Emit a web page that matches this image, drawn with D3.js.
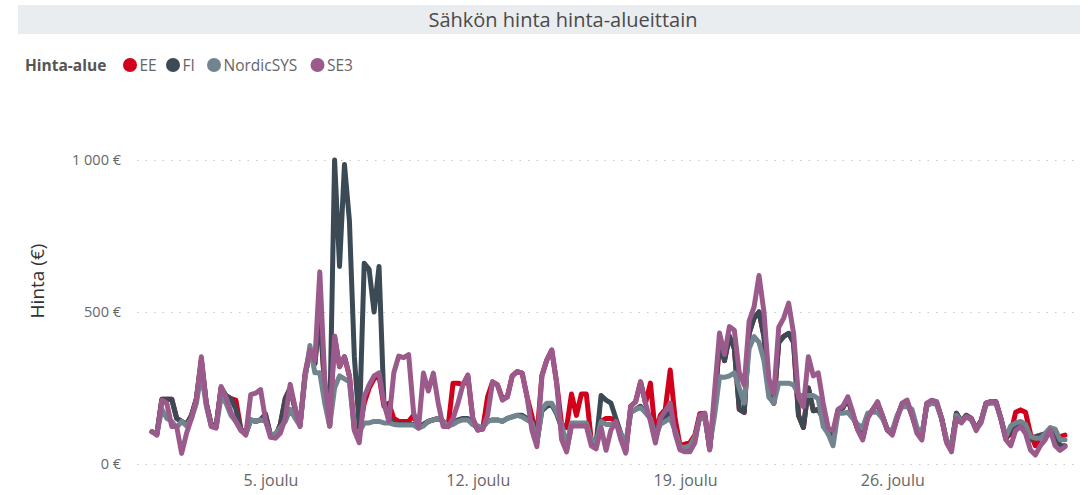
<!DOCTYPE html>
<html>
<head>
<meta charset="utf-8">
<script src="https://cdn.jsdelivr.net/npm/d3@7"></script>
<style>
  body { margin: 0; background: #fff; }
  text { font-family: "Open Sans", "Noto Sans", sans-serif; }
</style>
</head>
<body>
<div id="container"></div>
<script>
/* CONSTANTS AND GLOBALS */
const width = 1088,
  height = 495;

// hinta-alueet ja värit
const areas = ["EE", "FI", "NordicSYS", "SE3"];
const areaColors = ["#d2001a", "#3b4a55", "#72858f", "#9a5a8c"];

const yTicks = [0, 500, 1000];
const xTickDays = [5, 12, 19, 26];

// 4 tunnin välein, 1.12. klo 0 alkaen
const stepHours = 4;

const seriesEE = [
  106,100,213,213,213,150, 140,130,160,215,340,200, 130,125,250,225,215,210, 115,100,145,140,145,160,
  95,90,130,215,250,180, 130,290,370,330,500,250, 125,420,320,353,290,120, 105,200,250,280,290,190,
  200,150,140,140,140,160, 120,130,140,145,150,140, 123,266,266,260,290,150, 112,115,221,270,260,215,
  221,290,304,299,221,156, 90,290,342,375,266,130, 120,230,160,230,230,80, 69,140,150,150,140,100,
  40,190,205,270,200,266, 100,160,180,309,150,60, 65,70,95,165,167,50, 200,400,340,420,380,180,
  170,430,480,500,420,230, 200,400,420,430,400,160, 120,250,175,180,150,100, 90,175,185,215,160,115,
  85,155,178,200,158,112, 100,155,198,205,160,110, 90,198,205,200,150,75, 60,167,140,160,150,115,
  142,200,205,205,150,85, 100,170,178,170,100,60, 90,95,115,95,90,95
];

const seriesFI = [
  106,100,213,213,213,150, 140,130,160,215,340,200, 130,125,250,225,215,180, 115,100,145,140,145,165,
  95,90,130,215,250,180, 130,290,370,330,500,250, 130,1000,650,985,800,353, 120,660,640,500,650,200,
  150,135,130,130,130,130, 120,130,140,145,150,140, 125,135,145,150,150,130, 120,120,140,145,145,140,
  150,155,160,160,150,140, 70,175,190,195,165,120, 45,130,130,130,130,70, 70,225,210,200,150,100,
  60,170,180,190,170,150, 80,140,150,170,110,50, 45,50,80,160,160,50, 200,400,340,420,380,180,
  170,430,480,500,420,230, 200,400,420,430,400,160, 120,250,175,180,150,100, 90,175,185,215,160,115,
  85,155,178,200,158,112, 100,155,198,205,160,110, 90,198,205,200,150,75, 60,167,140,160,150,115,
  142,200,205,205,150,85, 110,130,135,125,80,90, 95,100,115,100,60,60
];

const seriesSYS = [
  106,100,180,150,140,120, 140,125,150,200,300,190, 125,120,220,200,160,140, 110,100,145,140,145,140,
  95,100,120,140,180,150, 125,280,390,300,300,200, 125,250,290,280,270,110, 105,135,135,140,140,135,
  135,130,128,128,128,128, 118,125,140,145,150,140, 125,130,140,145,145,130, 125,120,140,145,145,140,
  150,155,160,155,145,135, 70,180,200,200,170,130, 60,135,135,135,135,80, 70,140,130,130,135,100,
  70,170,180,185,170,150, 90,130,140,150,110,55, 55,60,90,150,150,60, 160,287,285,290,300,250,
  200,380,419,400,340,220, 200,266,266,266,260,230, 225,225,225,215,123,100, 60,167,167,170,150,130,
  120,167,170,170,150,115, 110,160,188,188,180,120, 100,190,200,195,150,80, 55,160,140,155,145,115,
  135,195,200,200,150,90, 125,135,140,130,90,85, 85,100,120,115,80,80
];

const seriesSE3 = [
  106,95,210,200,123,123, 35,101,150,215,353,200, 123,118,255,220,170,140, 112,95,228,233,245,145,
  88,85,101,150,262,186, 123,300,375,340,632,280, 125,420,320,353,290,110, 70,221,260,290,300,200,
  140,300,355,350,360,170, 118,299,240,299,200,123, 123,150,200,260,293,150, 112,115,160,270,260,210,
  221,290,304,299,221,110, 57,290,342,375,266,80, 40,125,125,125,125,60, 50,120,45,112,140,80,
  36,190,205,270,200,140, 69,150,175,200,100,46, 40,40,70,160,167,46, 240,431,360,452,440,300,
  260,470,517,620,500,280, 230,450,480,529,430,220, 188,353,290,300,200,120, 110,180,190,221,170,112,
  79,150,178,205,160,112, 95,150,200,210,160,101, 79,200,210,205,150,70, 40,150,135,156,150,110,
  140,200,205,205,150,80, 60,110,123,100,46,30, 60,80,112,60,45,57
];

const allSeries = [seriesEE, seriesFI, seriesSYS, seriesSE3];

/* SCALES */
const t0 = Date.UTC(2022, 11, 1);
const timeOf = i => new Date(t0 + i * stepHours * 3600 * 1000);

const xScale = d3.scaleUtc()
  .domain([timeOf(0), timeOf(seriesSE3.length - 1)])
  .range([152, 1065]);

const yScale = d3.scaleLinear()
  .domain([0, 1000])
  .range([464, 160]);

const colorScale = d3.scaleOrdinal()
  .domain(areas)
  .range(areaColors);

const fiLocale = d3.formatLocale({ decimal: ",", thousands: " ", grouping: [3], currency: ["", " €"] });
const euro = fiLocale.format(",.0f");

/* HTML ELEMENTS */
const svg = d3.select("#container")
  .append("svg")
  .attr("width", width)
  .attr("height", height);

// otsikkopalkki
svg.append("rect")
  .attr("x", 18).attr("y", 5)
  .attr("width", 1062).attr("height", 29)
  .attr("fill", "#eaedf0");

svg.append("text")
  .attr("x", 563).attr("y", 26.5)
  .attr("text-anchor", "middle")
  .attr("font-size", 20)
  .attr("fill", "#4a4a4a")
  .text("Sähkön hinta hinta-alueittain");

// legenda
const legend = svg.append("g").attr("transform", "translate(0,65)");
legend.append("text")
  .attr("x", 25).attr("y", 5.5)
  .attr("font-size", 15.5)
  .attr("font-weight", "bold")
  .attr("fill", "#555")
  .text("Hinta-alue");

const legendX = [130, 173, 214, 317.5];
areas.forEach((a, i) => {
  legend.append("circle")
    .attr("cx", legendX[i]).attr("cy", 0)
    .attr("r", 7)
    .attr("fill", colorScale(a));
  legend.append("text")
    .attr("x", legendX[i] + 9.5).attr("y", 5.5)
    .attr("font-size", 15.5)
    .attr("fill", "#666")
    .text(a);
});

/* AXES */
const yAxis = d3.axisLeft(yScale)
  .tickValues(yTicks)
  .tickSize(-(1080 - 137))
  .tickPadding(16)
  .tickFormat(d => euro(d) + " €");

const yG = svg.append("g")
  .attr("transform", "translate(137,0)")
  .call(yAxis);
yG.select(".domain").remove();
yG.selectAll(".tick line")
  .attr("stroke", "#c8c8c8")
  .attr("stroke-dasharray", "1.5,7");
yG.selectAll(".tick text")
  .attr("font-size", 14.5)
  .attr("fill", "#666")
  .style("font-family", "'Open Sans', sans-serif");

const xAxis = d3.axisBottom(xScale)
  .tickValues(xTickDays.map(d => new Date(Date.UTC(2022, 11, d))))
  .tickSize(0)
  .tickPadding(11)
  .tickFormat(d => d.getUTCDate() + ". joulu");

const xG = svg.append("g")
  .attr("transform", "translate(0,464)")
  .call(xAxis);
xG.select(".domain").remove();
xG.selectAll(".tick text")
  .attr("font-size", 16)
  .attr("fill", "#666")
  .style("font-family", "'Open Sans', sans-serif");

svg.append("text")
  .attr("transform", "translate(44,281) rotate(-90)")
  .attr("text-anchor", "middle")
  .attr("font-size", 19)
  .attr("fill", "#333")
  .text("Hinta (€)");

/* LINES */
const line = d3.line()
  .x((d, i) => xScale(timeOf(i)))
  .y(d => yScale(d));

svg.selectAll("path.series")
  .data(allSeries)
  .join("path")
  .attr("class", "series")
  .attr("d", d => line(d))
  .attr("fill", "none")
  .attr("stroke", (d, i) => colorScale(areas[i]))
  .attr("stroke-width", 5)
  .attr("stroke-linejoin", "round")
  .attr("stroke-linecap", "round");
</script>
</body>
</html>
